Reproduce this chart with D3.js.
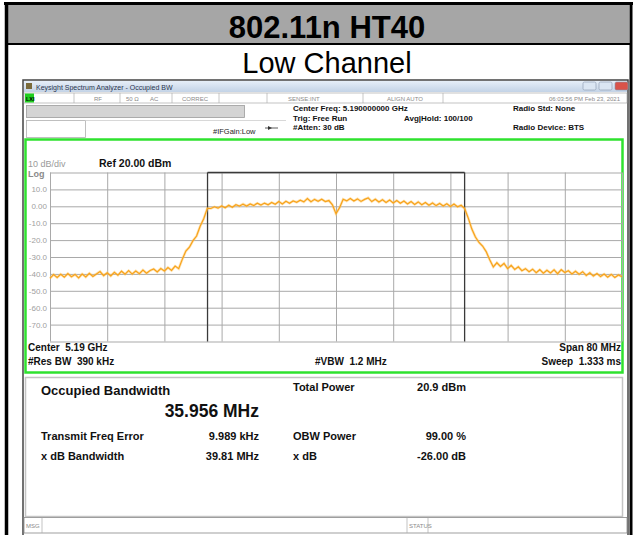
<!DOCTYPE html>
<html lang="en">
<head>
<meta charset="UTF-8" />
<title>802.11n HT40 - Low Channel</title>
<script src="https://d3js.org/d3.v7.min.js"></script>
<style>
  body { margin: 0; background: #fff; }
  svg text { font-family: Arial, "Liberation Sans", sans-serif; white-space: pre; }
  .grid line { stroke: #a9a9a9; stroke-width: 1; }
  .grid path { display: none; }
  .ylab text { fill: #a0a0a0; font-size: 8px; }
  .ylab path { display: none; }
  .hdr { font-size: 8px; font-weight: bold; fill: #111; }
  .stat { font-size: 6px; fill: #8a8a8a; }
  .foot { font-size: 10px; font-weight: bold; fill: #111; }
  .res { font-size: 11px; font-weight: bold; fill: #111; }
</style>
</head>
<body>
<script>
// sweep: -40 .. +40 MHz around 5.19 GHz, one point every 0.5 MHz
var spanMHz = [-40, 40];
var stepMHz = 0.5;
var traceDbm = [
  -42.6, -40.4, -42.1, -40.2, -41.9, -39.8, -41.7, -40.3, -42.4, -40.1,
  -41.8, -39.6, -41.5, -40.0, -38.6, -41.0, -39.3, -41.2, -39.0, -40.8,
  -38.4, -40.2, -38.1, -40.1, -38.3, -39.9, -37.7, -39.6, -38.0, -37.1,
  -38.9, -36.8, -38.3, -36.2, -37.9, -35.4, -36.9, -31.4, -26.5, -24.2,
  -20.3, -17.6, -11.8, -7.4, -1.2, -1.3, -0.3, -1.1, 0.2, -0.9,
  0.6, -0.6, 0.9, 0.1, 1.3, 0.2, 1.4, 0.5, 1.8, 0.7,
  1.9, 0.9, 2.3, 1.2, 2.8, 1.4, 3.0, 1.8, 3.2, 2.4,
  3.6, 2.6, 4.6, 2.7, 4.1, 3.0, 4.2, 2.8, 3.4, 0.9,
  -4.4,
  -0.8, 4.2, 3.2, 4.6, 3.1, 4.4, 2.9, 4.1, 5.0, 2.8,
  4.2, 2.5, 3.9, 2.3, 3.7, 2.0, 3.4, 1.8, 3.1, 1.4,
  2.8, 1.1, 2.6, 0.9, 2.2, 0.6, 2.0, 0.4, 1.7, 0.2,
  1.5, -0.1, 1.3, -0.3, 0.6, -1.4, -7.0, -13.5, -18.2, -21.4,
  -23.5, -26.8, -31.6, -35.9, -33.4, -35.6, -33.8, -36.9, -35.0, -37.4,
  -35.8, -38.1, -36.9, -38.7, -37.2, -39.3, -37.5, -39.6, -37.8, -39.5,
  -37.6, -39.9, -37.5, -39.2, -38.1, -40.0, -38.4, -40.2, -38.7, -40.9,
  -39.3, -41.3, -39.8, -41.6, -40.1, -41.9, -40.3, -42.1, -40.6, -41.7
];
var yTicks = [20, 10, 0, -10, -20, -30, -40, -50, -60, -70, -80];
var yTickLabels = ["", "10.0", "0.00", "-10.0", "-20.0", "-30.0", "-40.0", "-50.0", "-60.0", "-70.0", ""];
var xTicks = [-40, -32, -24, -16, -8, 0, 8, 16, 24, 32, 40];
var obwEdgesMHz = [-17.968, 17.988];

var W = 635, H = 535;
var svg = d3.select("body").append("svg").attr("width", W).attr("height", H);

var defs = svg.append("defs");
var tb = defs.append("linearGradient").attr("id", "tbar").attr("x1", 0).attr("y1", 0).attr("x2", 0).attr("y2", 1);
tb.append("stop").attr("offset", "0%").attr("stop-color", "#e6eef8");
tb.append("stop").attr("offset", "100%").attr("stop-color", "#c3d3e6");

// outer table frame + title band
svg.append("rect").attr("x", 8).attr("y", 5).attr("width", 621).attr("height", 38).attr("fill", "#a6a6a6");
svg.append("line").attr("x1", 6).attr("x2", 631).attr("y1", 44).attr("y2", 44).attr("stroke", "#000").attr("stroke-width", 2);
svg.append("line").attr("x1", 4).attr("x2", 633).attr("y1", 3.5).attr("y2", 3.5).attr("stroke", "#000").attr("stroke-width", 3);
svg.append("line").attr("x1", 6.5).attr("x2", 6.5).attr("y1", 2).attr("y2", H).attr("stroke", "#000").attr("stroke-width", 3.5);
svg.append("line").attr("x1", 631).attr("x2", 631).attr("y1", 2).attr("y2", H).attr("stroke", "#000").attr("stroke-width", 3);

svg.append("text").attr("x", 327).attr("y", 38).attr("text-anchor", "middle")
  .attr("font-size", 31).attr("font-weight", "bold").attr("fill", "#000").text("802.11n HT40");
svg.append("text").attr("x", 327).attr("y", 73).attr("text-anchor", "middle")
  .attr("font-size", 29).attr("fill", "#000").text("Low Channel");

// analyzer window
svg.append("rect").attr("x", 23).attr("y", 80).attr("width", 605).attr("height", 470)
  .attr("fill", "#fff").attr("stroke", "#444").attr("stroke-width", 1.5);
svg.append("rect").attr("x", 24).attr("y", 81).attr("width", 603).attr("height", 11).attr("fill", "url(#tbar)");
svg.append("rect").attr("x", 26).attr("y", 83).attr("width", 6).attr("height", 6).attr("fill", "#7a6a3a");
svg.append("text").attr("x", 36).attr("y", 89.5).attr("font-size", 7).attr("fill", "#2a3550")
  .text("Keysight Spectrum Analyzer - Occupied BW");
var btns = [[583, "#dbe6f3"], [599, "#dbe6f3"], [615, "#d9534a"]];
btns.forEach(function (b) {
  svg.append("rect").attr("x", b[0]).attr("y", 82).attr("width", 13).attr("height", 8).attr("rx", 1.5)
    .attr("fill", b[1]).attr("stroke", "#8796ad").attr("stroke-width", 0.6);
});

// status row
svg.append("rect").attr("x", 24).attr("y", 93).attr("width", 603).attr("height", 10)
  .attr("fill", "#fff").attr("stroke", "#9a9a9a").attr("stroke-width", 0.6);
svg.append("rect").attr("x", 25).attr("y", 93.5).attr("width", 9).attr("height", 9).attr("fill", "#1fcf1f");
svg.append("text").attr("x", 26).attr("y", 100.5).attr("font-size", 5.5).attr("font-weight", "bold").attr("fill", "#000").text("LXI");
[74, 120, 172, 219, 267, 363, 443].forEach(function (sx) {
  svg.append("line").attr("x1", sx).attr("x2", sx).attr("y1", 93).attr("y2", 103).attr("stroke", "#b0b0b0").attr("stroke-width", 0.7);
});
[["RF", 94], ["50 \u03A9", 126], ["AC", 150], ["CORREC", 182], ["SENSE:INT", 288], ["ALIGN AUTO", 387]].forEach(function (s) {
  svg.append("text").attr("class", "stat").attr("x", s[1]).attr("y", 100.5).text(s[0]);
});
svg.append("text").attr("class", "stat").attr("x", 620).attr("y", 100.5).attr("text-anchor", "end")
  .attr("fill", "#444").text("06:03:56 PM Feb 23, 2021");

// header area
svg.append("rect").attr("x", 26.5).attr("y", 105.5).attr("width", 218).attr("height", 12)
  .attr("fill", "#d4d4d4").attr("stroke", "#9c9c9c").attr("stroke-width", 0.8);
svg.append("rect").attr("x", 26.5).attr("y", 120.5).attr("width", 59).attr("height", 17)
  .attr("fill", "#fff").attr("stroke", "#b0b0b0").attr("stroke-width", 0.8);
svg.append("line").attr("x1", 85.5).attr("x2", 286).attr("y1", 120.5).attr("y2", 120.5).attr("stroke", "#d8d8d8");
svg.append("text").attr("x", 213).attr("y", 134).attr("font-size", 7.5).attr("fill", "#222").text("#IFGain:Low");
svg.append("line").attr("x1", 265).attr("x2", 278).attr("y1", 128).attr("y2", 128).attr("stroke", "#333").attr("stroke-width", 0.8);
svg.append("path").attr("d", "M268,126 L272,128 L268,130 Z").attr("fill", "#333");
[["Center Freq: 5.190000000 GHz", 293, 111], ["Trig: Free Run", 293, 120.5], ["#Atten: 30 dB", 293, 130],
 ["Avg|Hold: 100/100", 404, 120.5], ["Radio Std: None", 513, 111], ["Radio Device: BTS", 513, 130]].forEach(function (t) {
  svg.append("text").attr("class", "hdr").attr("x", t[1]).attr("y", t[2]).text(t[0]);
});

// trace screen with green focus border
svg.append("rect").attr("x", 25.5).attr("y", 139.5).attr("width", 597).attr("height", 233)
  .attr("fill", "#fff").attr("stroke", "#2fe22f").attr("stroke-width", 2.5);

var plot = { left: 50, right: 622, top: 172.5, bottom: 341.5 };
var x = d3.scaleLinear().domain(spanMHz).range([plot.left, plot.right]);
var y = d3.scaleLinear().domain([-80, 20]).range([plot.bottom, plot.top]);

svg.append("text").attr("x", 28).attr("y", 167).attr("font-size", 9).attr("fill", "#9a9a9a").text("10 dB/div");
svg.append("text").attr("x", 99).attr("y", 167).attr("font-size", 10.5).attr("font-weight", "bold").attr("fill", "#111").text("Ref 20.00 dBm");
svg.append("text").attr("x", 28).attr("y", 177).attr("font-size", 9).attr("font-weight", "bold").attr("fill", "#8a8a8a").text("Log");

var hGrid = svg.append("g").attr("class", "grid").attr("transform", "translate(" + plot.left + ",0)")
  .call(d3.axisLeft(y).tickValues(yTicks).tickSize(-(plot.right - plot.left)).tickFormat(""));
var vGrid = svg.append("g").attr("class", "grid").attr("transform", "translate(0," + plot.bottom + ")")
  .call(d3.axisBottom(x).tickValues(xTicks).tickSize(-(plot.bottom - plot.top)).tickFormat(""));
vGrid.selectAll(".tick").filter(function (d) { return d === 0; }).select("line")
  .attr("stroke", "#cfcfcf").attr("stroke-width", 2);
vGrid.selectAll(".tick").filter(function (d) { return d === -40 || d === 40; }).select("line").attr("stroke", "#8f8f8f");
hGrid.selectAll(".tick").filter(function (d) { return d === 20 || d === -80; }).select("line").attr("stroke", "#8f8f8f");

svg.append("g").attr("class", "ylab").attr("transform", "translate(48,0)")
  .call(d3.axisLeft(y).tickValues(yTicks).tickSize(0).tickPadding(1)
    .tickFormat(function (d, i) { return yTickLabels[i]; }));

// occupied bandwidth markers
var obwX = obwEdgesMHz.map(function (f) { return x(f); });
svg.append("g").selectAll("line").data(obwX).join("line")
  .attr("x1", function (d) { return d; }).attr("x2", function (d) { return d; })
  .attr("y1", plot.top).attr("y2", plot.bottom).attr("stroke", "#3a3a3a").attr("stroke-width", 1.3);
svg.append("line").attr("x1", obwX[0]).attr("x2", obwX[1]).attr("y1", plot.top).attr("y2", plot.top)
  .attr("stroke", "#3a3a3a").attr("stroke-width", 1.3);

// trace
var line = d3.line()
  .x(function (d, i) { return x(spanMHz[0] + i * stepMHz); })
  .y(function (d) { return y(d); });
svg.append("path").datum(traceDbm).attr("d", line).attr("fill", "none")
  .attr("stroke", "#ffc864").attr("stroke-width", 2.6).attr("stroke-opacity", 0.5);
svg.append("path").datum(traceDbm).attr("d", line).attr("fill", "none")
  .attr("stroke", "#f7a21b").attr("stroke-width", 1.2);

// footer of screen
svg.append("text").attr("class", "foot").attr("x", 28).attr("y", 351).text("Center  5.19 GHz");
svg.append("text").attr("class", "foot").attr("x", 28).attr("y", 364.5).text("#Res BW  390 kHz");
svg.append("text").attr("class", "foot").attr("x", 315).attr("y", 364.5).text("#VBW  1.2 MHz");
svg.append("text").attr("class", "foot").attr("x", 621).attr("y", 351).attr("text-anchor", "end").text("Span 80 MHz");
svg.append("text").attr("class", "foot").attr("x", 621).attr("y", 364.5).attr("text-anchor", "end").text("Sweep  1.333 ms");

// result panel
svg.append("rect").attr("x", 25.5).attr("y", 377.5).attr("width", 597).attr("height", 139)
  .attr("fill", "#fff").attr("stroke", "#c4c4c4").attr("stroke-width", 1.5);
svg.append("text").attr("x", 41).attr("y", 395).attr("font-size", 13).attr("font-weight", "bold").attr("fill", "#111").text("Occupied Bandwidth");
svg.append("text").attr("x", 259).attr("y", 417).attr("text-anchor", "end").attr("font-size", 17.5).attr("font-weight", "bold").attr("fill", "#111").text("35.956 MHz");
[["Total Power", 293, 391, "start"], ["20.9 dBm", 466, 391, "end"],
 ["Transmit Freq Error", 41, 440, "start"], ["9.989 kHz", 259, 440, "end"],
 ["OBW Power", 293, 440, "start"], ["99.00 %", 466, 440, "end"],
 ["x dB Bandwidth", 41, 460, "start"], ["39.81 MHz", 259, 460, "end"],
 ["x dB", 293, 460, "start"], ["-26.00 dB", 466, 460, "end"]].forEach(function (t) {
  svg.append("text").attr("class", "res").attr("x", t[1]).attr("y", t[2]).attr("text-anchor", t[3]).text(t[0]);
});

// message / status bar
svg.append("rect").attr("x", 24).attr("y", 517.5).attr("width", 603).attr("height", 15.5)
  .attr("fill", "#fff").attr("stroke", "#888").attr("stroke-width", 0.8);
[42, 407, 428].forEach(function (sx) {
  svg.append("line").attr("x1", sx).attr("x2", sx).attr("y1", 517.5).attr("y2", 533).attr("stroke", "#aaa").attr("stroke-width", 0.7);
});
svg.append("text").attr("class", "stat").attr("x", 26).attr("y", 528).text("MSG");
svg.append("text").attr("class", "stat").attr("x", 409).attr("y", 528).text("STATUS");
</script>
</body>
</html>
